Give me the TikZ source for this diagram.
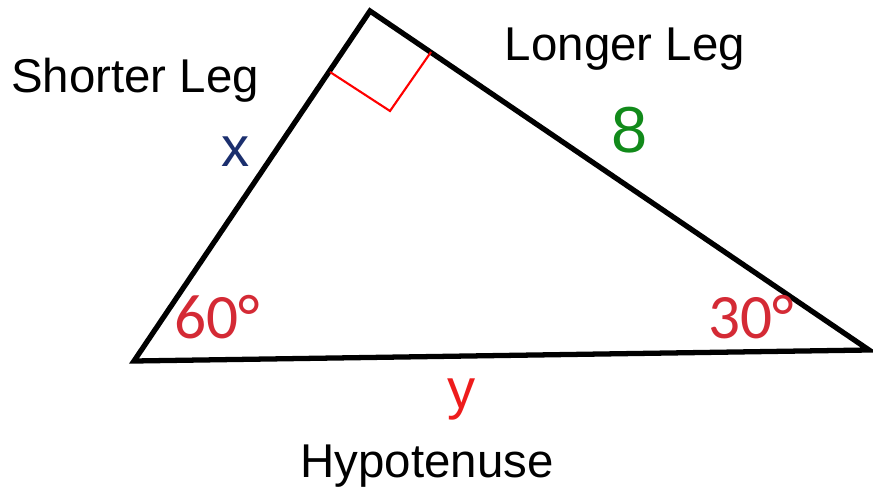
\documentclass[tikz,border=0pt]{standalone}
\usepackage{fontspec}
\setmainfont{Liberation Sans}
\newfontfamily\calfont{Carlito}
\usetikzlibrary{positioning}
\definecolor{legBlue}{HTML}{1B2F6E}
\definecolor{legGreen}{HTML}{118A1A}
\definecolor{angleRed}{HTML}{D42A35}
\definecolor{hypRed}{HTML}{EE1C1C}
\tikzset{
    side/.style={draw=black,line width=3pt,line join=miter},
    rightmark/.style={draw=red,line width=1.2pt},
    legname/.style={anchor=base,font=\fontsize{27}{31}\selectfont,text=black},
    sidevar/.style={anchor=base,font=\fontsize{32}{36}\selectfont},
    anglelbl/.style={anchor=base,font=\calfont\fontsize{36}{40}\selectfont,text=angleRed}
}
\begin{document}
\begin{tikzpicture}[x=0.02cm,y=-0.02cm]
            \useasboundingbox (0,0) rectangle (873,487);

            % vertices
            \coordinate (top) at (370,11);
            \coordinate (left) at (134,361);
            \coordinate (right) at (869,350);
            \draw[side] (top) -- (right) -- (left) -- cycle;

            % right angle mark
            \coordinate (ma) at (330,72);
            \coordinate (mb) at (390,111);
            \coordinate (mc) at (431,52);
            \draw[rightmark] (ma) -- (mb) -- (mc);

            % labels
            \node[legname] (shorter) at (135,92) {Shorter Leg};
            \node[legname] (longer) at (625,60) {Longer Leg};
            \node[legname] (hyp) at (427,477) {Hypotenuse};

            \node[sidevar,text=legBlue] (xlbl) at (236,166) {x};
            \node[sidevar,font=\fontsize{37}{42}\selectfont,text=legGreen] (eight) at (630,152) {8};
            \node[sidevar,text=hypRed] (ylbl) at (462,408) {y};

            \node[anglelbl] (sixty) at (217,338) {60°};
            \node[anglelbl] (thirty) at (751,338) {30°};
        \end{tikzpicture}
\end{document}
